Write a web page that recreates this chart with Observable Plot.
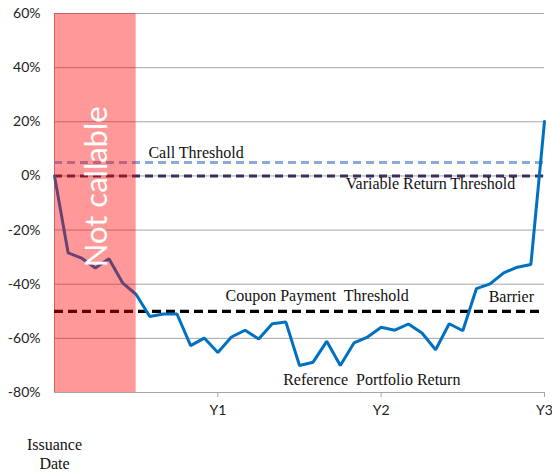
<!DOCTYPE html>
<html>
<head>
<meta charset="utf-8">
<script src="https://cdn.jsdelivr.net/npm/d3@7"></script>
<script src="https://cdn.jsdelivr.net/npm/@observablehq/plot@0.6"></script>
<style>
  html, body { margin: 0; padding: 0; background: #fff; }
</style>
</head>
<body>
<div id="chart"></div>
<script>
// Months since issuance
const months = [0,1,2,3,4,5,6,7,8,9,10,11,12,13,14,15,16,17,18,19,20,21,22,23,24,25,26,27,28,29,30,31,32,33,34,35,36];
// Reference portfolio return (%)
const portfolioReturn = [0,-28.4,-30.4,-34,-30.6,-39.5,-43.8,-51.9,-51,-51,-62.7,-59.9,-65.2,-59.5,-57,-60.2,-54.6,-54,-70,-68.8,-61.1,-70,-61.7,-59.5,-55.9,-57,-54.7,-58,-64.2,-54.6,-57.2,-41.6,-39.9,-35.8,-33.7,-32.7,20.1];

// Thresholds (%)
const callThreshold = 5;
const variableReturnThreshold = 0;
const couponThreshold = -50;

// Not-callable period (months)
const notCallableStart = 0;
const notCallableEnd = 6;

// Axis ticks
const yTicks = [-80,-60,-40,-20,0,20,40,60];
const yearMonths = [12,24,36];
const yearLabels = ["Y1","Y2","Y3"];

// Annotation labels (month, %)
const labels = [
  {x: 6.9, y: 8.5, text: "Call Threshold"},
  {x: 21.4, y: -3, text: "Variable Return Threshold"},
  {x: 12.56, y: -44.4, text: "Coupon Payment  Threshold"},
  {x: 31.9, y: -44.8, text: "Barrier"},
  {x: 16.8, y: -75.2, text: "Reference  Portfolio Return"}
];

const data = months.map((m, i) => ({month: m, value: portfolioReturn[i]}));
const serif = "'Liberation Serif', 'Times New Roman', serif";

const chart = Plot.plot({
  width: 552,
  height: 474,
  marginLeft: 54,
  marginRight: 8,
  marginTop: 13,
  marginBottom: 82,
  style: {fontFamily: "Lato, sans-serif", fontSize: "14px", color: "#222", background: "#fff"},
  x: {domain: [0, 36]},
  y: {domain: [-80, 60]},
  marks: [
    Plot.ruleY(yTicks, {stroke: "#a6a6a6", strokeWidth: 1}),
    Plot.ruleX([0], {stroke: "#a6a6a6", strokeWidth: 1}),
    Plot.axisY({ticks: yTicks, tickSize: 0, tickPadding: 14, tickFormat: d => d + "%", label: null}),
    Plot.axisX({ticks: yearMonths, tickSize: 5, tickPadding: 8, stroke: "#a6a6a6", tickFormat: d => yearLabels[yearMonths.indexOf(d)], label: null}),
    Plot.ruleY([callThreshold], {stroke: "#8ea9db", strokeWidth: 3, strokeDasharray: "8,5"}),
    Plot.ruleY([variableReturnThreshold], {stroke: "#3c2d5a", strokeWidth: 3, strokeDasharray: "8,5"}),
    Plot.ruleY([couponThreshold], {stroke: "#000", strokeWidth: 3.2, strokeDasharray: "9,5"}),
    Plot.line(data, {x: "month", y: "value", stroke: "#0070c0", strokeWidth: 3, strokeLinejoin: "miter"}),
    Plot.rect([{x1: notCallableStart, x2: notCallableEnd}], {x1: "x1", x2: "x2", y1: -80, y2: 60, fill: "red", fillOpacity: 0.4}),
    Plot.text(["Not callable"], {x: 3.1, y: -4, text: d => d, rotate: -90, fill: "white", fontSize: 31, fontFamily: "Lato, sans-serif"}),
    Plot.text(labels, {x: "x", y: "y", text: "text", textAnchor: "start", fontSize: 16, fontFamily: serif, fill: "#111"}),
    Plot.text(["Issuance\nDate"], {x: 0, y: -80, dy: 61, text: d => d, fontSize: 16, lineHeight: 1.15, fontFamily: serif, fill: "#111"})
  ]
});
document.getElementById("chart").appendChild(chart);
</script>
</body>
</html>
